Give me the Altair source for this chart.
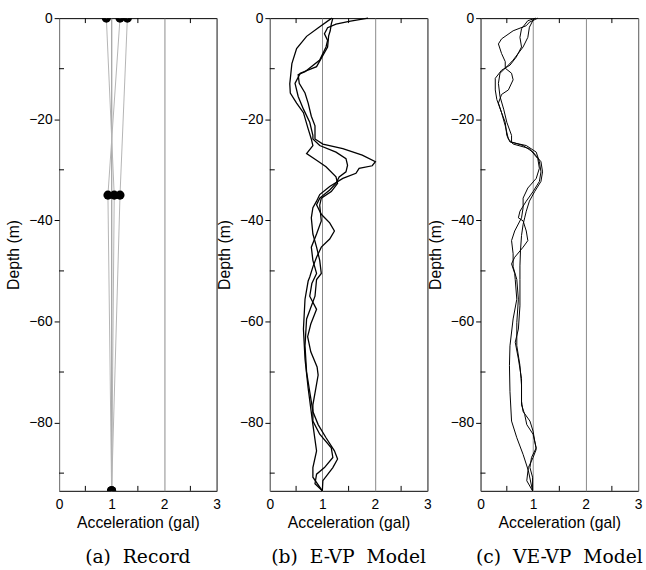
import altair as alt
import pandas as pd

# ---------------- data ----------------
# (a) Record: accelerations at three sensor depths
rec_depth = [0, -35, -93.5]
rec1 = [0.90, 1.05, 1.00]
rec2 = [1.16, 0.93, 1.00]
rec3 = [1.30, 1.16, 1.00]

# (b) E-VP model: three curves (acc, depth)
b1_x = [1.87, 1.51, 1.26, 1.10, 1.04, 1.10, 1.07, 0.95, 0.67, 0.54, 0.56, 0.67, 0.73, 0.79, 0.86, 0.86,
        1.01, 1.39, 1.76, 2.01, 1.95, 1.70, 1.64, 1.39, 1.14, 0.95, 0.89, 0.82, 0.79, 0.82, 0.89, 0.95,
        0.98, 0.89, 0.86, 0.70, 0.67, 0.70, 0.76, 0.82, 0.92, 1.07, 1.23, 1.29, 1.20, 1.01, 1.00]
b1_d = [0, -0.65, -1.2, -1.9, -3.1, -4.4, -5.7, -8.3, -10.6, -11.2, -12.9, -14.8, -16.8, -19.4, -21.3, -23.9,
        -24.9, -25.8, -27.1, -28.4, -29.2, -29.7, -30.7, -31.7, -33.3, -34.9, -36.2, -37.5, -39.5, -42.7, -45.3, -47.9,
        -50.5, -51.7, -55, -59.5, -64.8, -70, -73.9, -77.8, -80.4, -83, -85.6, -87.2, -88.9, -91.5, -93.5]

b2_x = [1.20, 1.17, 1.15, 1.12, 1.10, 0.89, 0.58, 0.48, 0.54, 0.64, 0.76, 0.82, 0.82, 0.95, 1.26, 1.45,
        1.48, 1.45, 1.32, 1.26, 1.14, 0.95, 0.89, 0.98, 1.14, 1.23, 1.14, 0.98, 0.89, 0.82, 0.76, 0.73,
        0.67, 0.64, 0.67, 0.73, 0.82, 0.89, 0.82, 0.82, 1.00]
b2_d = [0, -1.2, -2.5, -3.5, -5.7, -9.6, -10.9, -12.9, -15.5, -18, -20.6, -23.2, -23.9, -25.2, -26.5, -27.8,
        -29.1, -30.4, -31.4, -32.7, -34, -35.6, -36.9, -38.8, -40.5, -42.1, -43.7, -45.3, -47.3, -49.2, -51.2, -52,
        -55.6, -61.5, -67.4, -73.2, -80.4, -85.6, -88.9, -90.8, -93.5]

b3_x = [1.18, 0.95, 0.70, 0.51, 0.42, 0.40, 0.38, 0.39, 0.51, 0.64, 0.73, 0.79, 0.82, 0.70, 0.89, 1.07,
        1.26, 1.29, 1.17, 0.98, 0.95, 0.98, 0.89, 0.79, 0.82, 0.89, 0.80, 0.76, 0.89, 0.78, 0.72, 0.78,
        0.90, 0.92, 0.88, 0.82, 0.82, 0.95, 1.17, 1.20, 1.04, 0.89, 0.86, 1.00]
b3_d = [0, -1.7, -3.6, -6, -9, -11, -13, -14.8, -16.8, -18.7, -21.9, -23.9, -25.2, -26.8, -28.1, -29.4,
        -31.4, -32.7, -34.3, -35.6, -37, -40.1, -42.7, -45.3, -47.9, -50.5, -52.5, -55, -57.6, -60.5, -63, -66,
        -69, -70.6, -73, -76.5, -79.7, -82.3, -85, -86.9, -88.9, -90.2, -92.1, -93.5]

# (c) VE-VP model: three curves (acc, depth)
c1_x = [1.09, 0.93, 0.87, 0.62, 0.40, 0.34, 0.40, 0.47, 0.47, 0.59, 0.62, 0.53, 0.40, 0.34, 0.40, 0.47,
        0.50, 0.56, 0.87, 1.06, 1.12, 1.15, 1.12, 1.00, 0.87, 0.75, 0.72, 0.81, 0.87, 0.90, 0.81, 0.65,
        0.59, 0.65, 0.66, 0.69, 0.62, 0.56, 0.55, 0.56, 0.59, 0.69, 0.81, 0.91, 0.99]
c1_d = [0, -0.8, -1.5, -2.5, -4.1, -5.1, -7, -8.6, -9.9, -10.9, -12.2, -14.2, -15.1, -16.8, -18.7, -20.6,
        -23.2, -24.5, -25.2, -26.5, -28.4, -30.4, -32.3, -34.3, -36.2, -38.2, -39.5, -40.1, -42.1, -44, -45.3, -47.3,
        -48.6, -50.5, -51.7, -55.6, -59.5, -64.8, -68.7, -73.9, -79.7, -83, -86.3, -89.5, -93.5]

c2_x = [1.05, 0.90, 0.78, 0.75, 0.78, 0.68, 0.56, 0.40, 0.28, 0.28, 0.31, 0.40, 0.47, 0.53, 0.62, 0.93,
        1.09, 1.12, 1.06, 0.90, 0.81, 0.81, 0.78, 0.65, 0.59, 0.62, 0.62, 0.69, 0.72, 0.69, 0.69, 0.75,
        0.78, 0.78, 0.84, 0.88, 1.00, 1.06, 0.97, 0.94, 0.99, 0.99]
c2_d = [0, -0.5, -2.1, -3.8, -5.7, -7.7, -9.3, -10.3, -11.9, -14.2, -16.1, -18.7, -21.3, -23.9, -24.9, -25.8,
        -27.8, -29.7, -31.7, -33.6, -35.6, -37.5, -39.5, -42.1, -44, -46.6, -49.2, -51.7, -55.6, -60.2, -64.8, -68.7,
        -72.6, -76.5, -78.4, -80.4, -82.3, -85, -86.9, -88.9, -90.8, -93.5]

c3_x = [1.02, 0.93, 0.90, 0.81, 0.62, 0.50, 0.37, 0.34, 0.37, 0.44, 0.50, 0.59, 0.59, 0.81, 1.00, 1.15,
        1.18, 1.15, 1.03, 0.93, 0.87, 0.84, 0.81, 0.78, 0.76, 0.75, 0.75, 0.75, 0.72, 0.66, 0.72, 0.78,
        0.78, 0.81, 0.94, 1.00, 1.03, 1.06, 1.00, 0.91, 0.88, 0.99]
c3_d = [0, -1.8, -3.8, -5.7, -8.3, -9.6, -10.9, -12.9, -15.5, -18, -20.6, -23.2, -24.5, -25.2, -26.5, -28.4,
        -30.4, -32.3, -34.3, -36.2, -38.2, -39.5, -40.8, -43, -46, -49, -51.7, -56.9, -61.5, -64.1, -67.4, -71.3,
        -75.8, -77.8, -79.7, -81.7, -83.6, -85.3, -86.9, -88.9, -91.5, -93.5]

x_ticks = [0, 1, 2, 3]
y_ticks = [0, -20, -40, -60, -80]
x_minor = [0.5, 1.5, 2.5]
y_minor = [-10, -30, -50, -70, -90]
NB = "\u00a0"
captions = ["(a)" + NB + " Record", "(b)" + NB + " E-VP" + NB + " Model", "(c)" + NB + " VE-VP" + NB + " Model"]


def curves_df(pairs):
    rows = []
    for k, (xs, ds) in enumerate(pairs):
        for i, (xv, dv) in enumerate(zip(xs, ds)):
            rows.append({"curve": k, "i": i, "acc": xv, "depth": dv})
    return pd.DataFrame(rows)


rec_df = curves_df([(rec1, rec_depth), (rec2, rec_depth), (rec3, rec_depth)])
b_df = curves_df([(b1_x, b1_d), (b2_x, b2_d), (b3_x, b3_d)])
c_df = curves_df([(c1_x, c1_d), (c2_x, c2_d), (c3_x, c3_d)])

X = alt.X("acc:Q", scale=alt.Scale(domain=[0, 3], nice=False, zero=False),
          axis=alt.Axis(values=x_ticks, title="Acceleration (gal)", grid=True, gridColor="#8a8a8a",
                        gridWidth=1, ticks=False, tickSize=0, domain=False, labelPadding=7,
                        titlePadding=3, labelFlush=False))
Y = alt.Y("depth:Q", scale=alt.Scale(domain=[-93.5, 0], nice=False, zero=False),
          axis=alt.Axis(values=y_ticks, title="Depth (m)", grid=False, tickSize=5, domain=False,
                        labelPadding=2, titlePadding=7, labelFlush=False))


def minor_ticks():
    xm = pd.DataFrame({"acc": x_minor})
    ym = pd.DataFrame({"depth": y_minor})
    top = alt.Chart(xm).mark_rule(color="black", strokeWidth=1).encode(
        x="acc:Q", y=alt.value(0), y2=alt.value(5))
    bot = alt.Chart(xm).mark_rule(color="black", strokeWidth=1).encode(
        x="acc:Q", y=alt.value(480), y2=alt.value(475))
    left = alt.Chart(ym).mark_rule(color="black", strokeWidth=1).encode(
        y="depth:Q", x=alt.value(0), x2=alt.value(5))
    return [top, bot, left]


def caption(text):
    return alt.TitleParams(text, orient="bottom", font="DejaVu Serif", fontSize=19,
                           fontWeight="normal", color="black", offset=18, anchor="middle")


# Panel (a)
rec_lines = alt.Chart(rec_df).mark_line(color="#b4b4b4", strokeWidth=1).encode(
    x=X, y=Y, detail="curve:N", order="i:Q")
rec_pts = alt.Chart(rec_df).mark_circle(color="black", size=85, opacity=1, clip=True).encode(
    x="acc:Q", y="depth:Q")
pa = alt.layer(rec_lines, rec_pts, *minor_ticks()).properties(
    width=160, height=480, title=caption(captions[0]))

# Panel (b)
b_lines = alt.Chart(b_df).mark_line(color="black", strokeWidth=1.3).encode(
    x=X, y=Y, detail="curve:N", order="i:Q")
pb = alt.layer(b_lines, *minor_ticks()).properties(
    width=160, height=480, title=caption(captions[1]))

# Panel (c)
c_lines = alt.Chart(c_df).mark_line(color="black", strokeWidth=1.0).encode(
    x=X, y=Y, detail="curve:N", order="i:Q")
pc = alt.layer(c_lines, *minor_ticks()).properties(
    width=160, height=480, title=caption(captions[2]))

chart = alt.hconcat(pa, pb, pc, spacing=54, bounds="flush").properties(
    padding={"left": 5, "top": 6, "right": 2, "bottom": 0},
    background="white"
).configure_view(stroke="black", strokeWidth=1).configure_axis(
    labelFont="Liberation Sans", labelFontSize=14, labelColor="black",
    titleFont="Liberation Sans", titleFontSize=16, titleFontWeight="normal", titleColor="black",
    tickColor="black"
)

chart.save("out.html", embed_options={"renderer": "svg", "actions": False})
